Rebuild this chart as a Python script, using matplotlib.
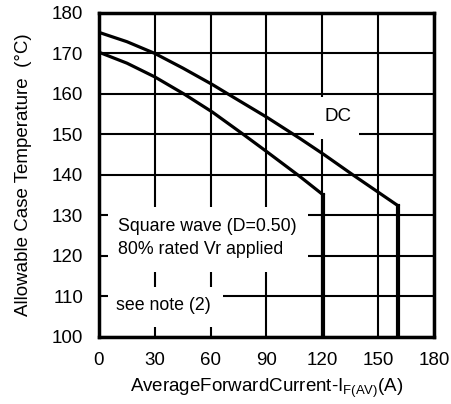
import numpy as np
import matplotlib.pyplot as plt
from matplotlib.patches import Rectangle

plt.rcParams['font.family'] = ['Liberation Sans', 'DejaVu Sans']

# DC curve
dc_x = [0, 15, 30, 45, 61, 70, 90, 108, 121, 136.5, 150.5, 160.7]
dc_y = [175.2, 172.9, 170.0, 166.4, 162.3, 159.8, 154.3, 149.0, 145.0, 140.0, 135.6, 132.4]
# Square wave curve
sq_x = [0, 15, 30, 46, 61, 77, 90, 108, 120.4]
sq_y = [170.3, 167.6, 164.2, 159.9, 155.5, 150.2, 145.8, 139.6, 135.1]

x_ticks = [0, 30, 60, 90, 120, 150, 180]
y_ticks = [100, 110, 120, 130, 140, 150, 160, 170, 180]

fig = plt.figure(figsize=(4.52, 4.04), dpi=100)
ax = fig.add_axes([0.219, 0.166, 0.741, 0.802])

ax.set_xlim(0, 180)
ax.set_ylim(100, 180)
ax.set_xticks(x_ticks)
ax.set_yticks(y_ticks)
ax.tick_params(length=0, labelsize=13.5)
ax.tick_params(axis='x', pad=10.5)
ax.tick_params(axis='y', pad=11.5)
ax.set_axisbelow(True)
ax.grid(True, color='black', lw=1.5)
for s in ax.spines.values():
    s.set_linewidth(2.5)

# curves with vertical drop to 100
ax.plot(dc_x, dc_y, color='black', lw=2.3, zorder=3)
ax.plot(sq_x, sq_y, color='black', lw=2.3, zorder=3)
ax.plot([dc_x[-1]] * 2, [dc_y[-1], 100], color='black', lw=3, zorder=3)
ax.plot([sq_x[-1]] * 2, [sq_y[-1], 100], color='black', lw=3, zorder=3)

# white label boxes hiding the grid
for (x0, y0, x1, y1) in [(115.5, 148.9, 139.7, 159.3),
                         (4.8, 116.0, 112.3, 132.1),
                         (4.8, 102.5, 66.6, 112.3)]:
    ax.add_patch(Rectangle((x0, y0), x1 - x0, y1 - y0, facecolor='white',
                           edgecolor='none', zorder=1))

ax.text(128.5, 154.5, 'DC', fontsize=13.5, ha='center', va='center', zorder=4)
ax.text(10.2, 127.2, 'Square wave (D=0.50)', fontsize=12.8, va='center', zorder=4)
ax.text(10.2, 121.5, '80% rated Vr applied', fontsize=12.8, va='center', zorder=4)
ax.text(9.1, 107.7, 'see note (2)', fontsize=12.8, va='center', zorder=4)

ax.set_xlabel('AverageForwardCurrent-I$_{\\mathregular{F(AV)}}$(A)', fontsize=13.5, labelpad=6)
ax.set_ylabel('Allowable Case Temperature  (\u00b0C)', fontsize=13.5, labelpad=14)

fig.savefig('out.png', dpi=100)
